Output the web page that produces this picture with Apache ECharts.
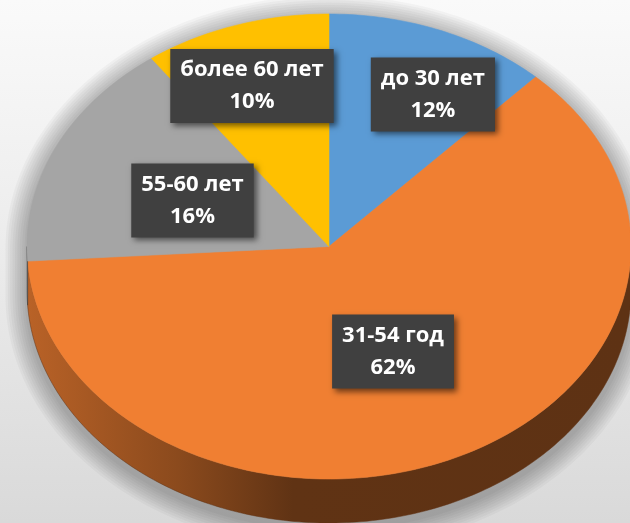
<!DOCTYPE html>
<html>
<head>
<meta charset="utf-8">
<script src="https://cdn.jsdelivr.net/npm/echarts@6/dist/echarts.min.js"></script>
<style>
html,body{margin:0;padding:0;}
#chart{width:630px;height:523px;}
</style>
</head>
<body>
<div id="chart"></div>
<script>
// ---- data ----
const categories = ['до 30 лет', '31-54 год', '55-60 лет', 'более 60 лет'];
const shares = [12, 62, 16, 10];
const percentLabels = ['12%', '62%', '16%', '10%'];

// ---- styling / layout (not data) ----
const sliceColors = ['#5B9BD5', '#F07F32', '#A5A5A5', '#FFC000'];
const layout = { cx: 329 / 630, cy: 246.5 / 523, rx: 302 / 630, ry: 232.5 / 523, depth: 44 / 523 };
// label anchor as fraction of radii from the pie centre
const labelAnchors = [[0.344, -0.654], [0.212, 0.452], [-0.452, -0.198], [-0.255, -0.690]];

const total = shares.reduce((a, b) => a + b, 0);
const starts = [];
shares.reduce((acc, v) => { starts.push(acc); return acc + v; }, 0);

function shade(hex, f) {
  const n = parseInt(hex.slice(1), 16);
  const r = Math.round(((n >> 16) & 255) * f), g = Math.round(((n >> 8) & 255) * f), b = Math.round((n & 255) * f);
  return 'rgb(' + r + ',' + g + ',' + b + ')';
}

function renderItem(params, api) {
  const W = api.getWidth(), H = api.getHeight();
  const cx = W * layout.cx, cy = H * layout.cy, rx = W * layout.rx, ry = H * layout.ry, depth = H * layout.depth;
  const arcX = (s, e, dy, grow) => {
    const g = grow || 0;
    const pts = [];
    const n = Math.max(2, Math.ceil(Math.abs(e - s) / (Math.PI / 180)));
    for (let k = 0; k <= n; k++) {
      const a = s + (e - s) * k / n;
      pts.push([cx + (rx + g) * Math.sin(a), cy - (ry + g) * Math.cos(a) + (dy || 0)]);
    }
    return pts;
  };
  const arc = (s, e, dy) => arcX(s, e, dy, 0);
  const i = params.dataIndex;
  const v = api.value(0);
  const a0 = starts[i] / total * Math.PI * 2;
  const a1 = (starts[i] + v) / total * Math.PI * 2;
  const color = sliceColors[i];
  const children = [];

  if (i === 0) {
    // soft halo/shadow around the whole pie body (layered)
    for (let k = 9; k >= 1; k--) {
      const g = k * 2.4;
      const body = arcX(Math.PI / 2, Math.PI * 1.5, depth + 5, g).concat(arcX(Math.PI * 1.5, Math.PI * 2.5, 3, g));
      children.push({
        type: 'polygon', shape: { points: body },
        style: { fill: 'rgba(0,0,0,0.03)' },
        silent: true
      });
    }
  }

  // visible side wall (front half)
  const s = Math.max(a0, Math.PI / 2), e = Math.min(a1, Math.PI * 1.5);
  if (s < e) {
    const pts = arc(s, e, 0).concat(arc(e, s, depth));
    children.push({
      type: 'polygon', shape: { points: pts },
      style: {
        fill: {
          type: 'linear', x: cx - rx, y: 0, x2: cx + rx, y2: 0, global: true,
          colorStops: [
            { offset: 0, color: shade(color, 0.77) },
            { offset: 0.25, color: shade(color, 0.58) },
            { offset: 0.44, color: shade(color, 0.4) },
            { offset: 1, color: shade(color, 0.39) }
          ]
        },
        stroke: shade(color, 0.4), lineWidth: 0.5
      }
    });
  }

  // top face
  const top = [[cx, cy]].concat(arc(a0, a1, 0));
  children.push({
    type: 'polygon', shape: { points: top },
    style: { fill: color, stroke: color, lineWidth: 0.6 }
  });
  return { type: 'group', children: children };
}

function renderLabel(params, api) {
  const W = api.getWidth(), H = api.getHeight();
  const i = params.dataIndex;
  const x = W * layout.cx + W * layout.rx * labelAnchors[i][0];
  const y = H * layout.cy + H * layout.ry * labelAnchors[i][1];
  return {
    type: 'text',
    x: x, y: y,
    style: {
      text: categories[i] + '\n' + percentLabels[i],
      fill: '#ffffff',
      font: 'bold 22px "Open Sans", sans-serif',
      lineHeight: 32,
      align: 'center', verticalAlign: 'middle',
      backgroundColor: '#404040',
      padding: [5, 10, 5, 10],
      shadowBlur: 6, shadowColor: 'rgba(0,0,0,0.55)', shadowOffsetX: 3, shadowOffsetY: 3
    }
  };
}

const chart = echarts.init(document.getElementById('chart'), null, { renderer: 'canvas' });
chart.setOption({
  animation: false,
  backgroundColor: {
    type: 'linear', x: 0, y: 0, x2: 0, y2: 1,
    colorStops: [{ offset: 0, color: '#fafafa' }, { offset: 0.5, color: '#ebebeb' }, { offset: 1, color: '#d9d9d9' }]
  },
  series: [
    {
      type: 'custom', coordinateSystem: 'none', renderItem: renderItem,
      data: shares.map((v, i) => ({ name: categories[i], value: [v] })),
      silent: true
    },
    {
      type: 'custom', coordinateSystem: 'none', renderItem: renderLabel,
      data: shares.map((v, i) => ({ name: categories[i], value: [v] })),
      silent: true, z: 5
    }
  ]
});
</script>
</body>
</html>
